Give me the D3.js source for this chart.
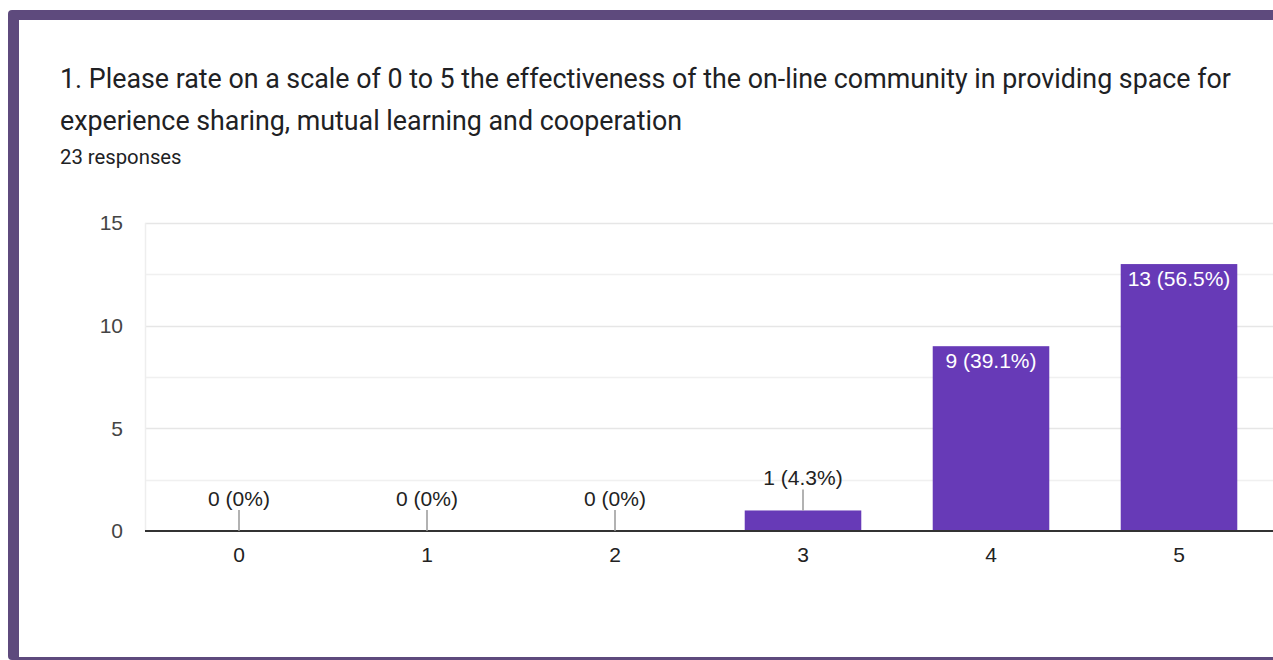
<!DOCTYPE html>
<html>
<head>
<meta charset="utf-8">
<script src="https://cdn.jsdelivr.net/npm/d3@7/dist/d3.min.js"></script>
<style>
  html, body { margin: 0; padding: 0; background: #ffffff; }
  svg { display: block; }
</style>
</head>
<body>
<svg id="chart" width="1273" height="660"></svg>
<script>
// Survey question, response count and per-rating tallies
const titleLines = [
  "1. Please rate on a scale of 0 to 5 the effectiveness of the on-line community in providing space for",
  "experience sharing, mutual learning and cooperation"
];
const responsesLabel = "23 responses";
const ratings = ["0", "1", "2", "3", "4", "5"];
const counts = [0, 0, 0, 1, 9, 13];
const percents = ["0%", "0%", "0%", "4.3%", "39.1%", "56.5%"];
const yTicks = [0, 5, 10, 15];
const yGrid = [2.5, 5, 7.5, 10, 12.5, 15];

const svg = d3.select("#chart");
const frame = "#5e4a7d";
const barColor = "#673ab7";
const fs = 21;

// Card frame: thick top and left edges, thin bottom edge
svg.append("rect").attr("x", 8).attr("y", 10).attr("width", 1290).attr("height", 650)
  .attr("rx", 4).attr("fill", frame);
svg.append("rect").attr("x", 19).attr("y", 20).attr("width", 1280).attr("height", 637)
  .attr("fill", "#ffffff");

// Heading
const head = svg.append("g").attr("font-family", "Roboto, 'Noto Sans', sans-serif").attr("fill", "#202124");
head.selectAll("text.t").data(titleLines).join("text")
  .attr("class", "t")
  .attr("x", 60).attr("y", (d, i) => 88 + i * 42)
  .attr("font-size", 26.8)
  .text(d => d);
head.append("text").attr("x", 60).attr("y", 164).attr("font-size", 20.3).text(responsesLabel);

// Scales
const x = d3.scaleBand().domain(ratings).range([145, 1273]).paddingInner(0.38).paddingOuter(0.19);
const y = d3.scaleLinear().domain([0, 15]).range([531, 223]);

const plot = svg.append("g").attr("font-family", "'Liberation Sans', Arial, sans-serif");

// Gridlines
plot.append("g").selectAll("line").data(yGrid).join("line")
  .attr("x1", 145).attr("x2", 1273)
  .attr("y1", d => Math.round(y(d)) + 0.5).attr("y2", d => Math.round(y(d)) + 0.5)
  .attr("stroke", d => d % 5 === 0 ? "#e6e6e6" : "#f0f0f0").attr("stroke-width", 1.5);
plot.append("line").attr("x1", 145.5).attr("x2", 145.5).attr("y1", y(15)).attr("y2", y(0))
  .attr("stroke", "#eeeeee").attr("stroke-width", 1.5);

// Y axis labels
const yAxis = d3.axisLeft(y).tickValues(yTicks).tickSize(0).tickPadding(22);
const gy = plot.append("g").attr("transform", "translate(145,0)").call(yAxis);
gy.select(".domain").remove();
gy.selectAll("text").attr("font-size", fs).attr("fill", "#444444")
  .attr("font-family", "'Liberation Sans', Arial, sans-serif");

// Bars
plot.append("g").selectAll("rect").data(ratings).join("rect")
  .attr("x", d => x(d)).attr("width", x.bandwidth())
  .attr("y", (d, i) => y(counts[i])).attr("height", (d, i) => y(0) - y(counts[i]))
  .attr("fill", barColor);

// X axis baseline and labels
const xAxis = d3.axisBottom(x).tickSize(0).tickPadding(16);
const gx = plot.append("g").attr("transform", `translate(0,${y(0)})`).call(xAxis);
gx.select(".domain").remove();
gx.selectAll("text").attr("font-size", fs).attr("fill", "#222222")
  .attr("font-family", "'Liberation Sans', Arial, sans-serif");
plot.append("line").attr("x1", 145).attr("x2", 1273).attr("y1", y(0)).attr("y2", y(0))
  .attr("stroke", "#333333").attr("stroke-width", 2);

// Value labels: inside tall bars, above short bars with a leader line
const labels = plot.append("g");
ratings.forEach((r, i) => {
  const cx = x(r) + x.bandwidth() / 2;
  const txt = `${counts[i]} (${percents[i]})`;
  const top = y(counts[i]);
  if (y(0) - top > 40) {
    labels.append("text").attr("x", cx).attr("y", top + 22)
      .attr("text-anchor", "middle").attr("font-size", fs).attr("fill", "#ffffff").text(txt);
  } else {
    labels.append("line").attr("x1", cx).attr("x2", cx).attr("y1", top - 21).attr("y2", top)
      .attr("stroke", "#999999").attr("stroke-width", 1.5);
    labels.append("text").attr("x", cx).attr("y", top - 25)
      .attr("text-anchor", "middle").attr("font-size", fs).attr("fill", "#222222").text(txt);
  }
});
</script>
</body>
</html>
